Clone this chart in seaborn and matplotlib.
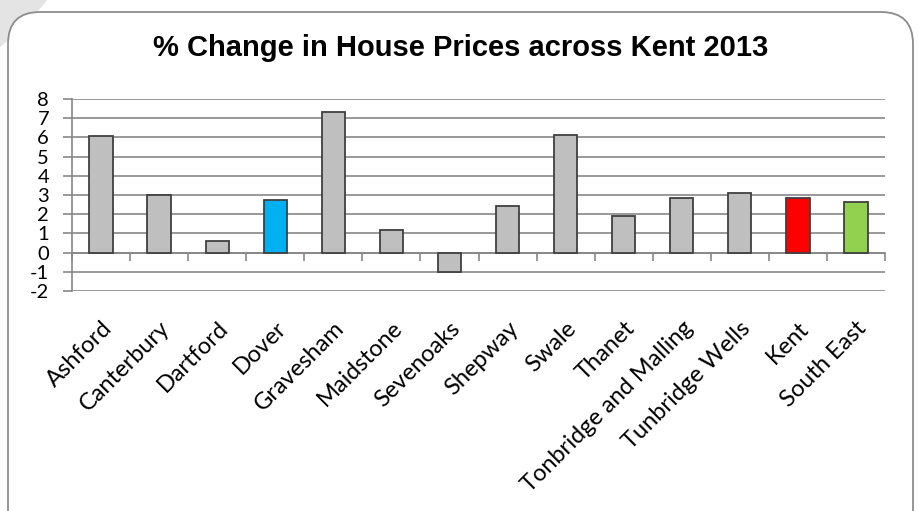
import numpy as np
import pandas as pd
import matplotlib
matplotlib.use("Agg")
import matplotlib.pyplot as plt
from matplotlib.patches import FancyBboxPatch, Circle
import seaborn as sns

categories = ["Ashford", "Canterbury", "Dartford", "Dover", "Gravesham", "Maidstone",
              "Sevenoaks", "Shepway", "Swale", "Thanet", "Tonbridge and Malling",
              "Tunbridge Wells", "Kent", "South East"]
values = [6.05, 3.0, 0.62, 2.75, 7.34, 1.19, -1.0, 2.41, 6.13, 1.89, 2.86, 3.10, 2.84, 2.65]
bar_colors = ["#bfbfbf", "#bfbfbf", "#bfbfbf", "#00b0f0", "#bfbfbf", "#bfbfbf", "#bfbfbf",
              "#bfbfbf", "#bfbfbf", "#bfbfbf", "#bfbfbf", "#bfbfbf", "#ff0000", "#92d050"]
y_ticks = [-2, -1, 0, 1, 2, 3, 4, 5, 6, 7, 8]
title = "% Change in House Prices across Kent 2013"

sns.set_theme(style="white")
plt.rcParams["font.family"] = ["Lato", "DejaVu Sans"]

df = pd.DataFrame({"area": categories, "change": values})

fig = plt.figure(figsize=(9.19, 5.11), dpi=100)
fig.patch.set_facecolor("white")

# decorative background: grey wedge in top-left corner and rounded frame
wedge = Circle((-2.0, 7.11), 3.18, transform=fig.dpi_scale_trans,
               facecolor="#e4e4e4", edgecolor="none", zorder=-3)
fig.patches.append(wedge)
frame = FancyBboxPatch((0.08, -0.4), 9.05, 5.11 - 0.12 + 0.4,
                       boxstyle="round,pad=0,rounding_size=0.32",
                       transform=fig.dpi_scale_trans, facecolor="white",
                       edgecolor="#8c8c8c", linewidth=1.3, zorder=-2)
fig.patches.append(frame)

ax = fig.add_axes([72 / 919, 1 - 291 / 511, (885 - 72) / 919, (291 - 99) / 511])
ax.set_zorder(2)
ax.patch.set_visible(False)

sns.barplot(data=df, x="area", y="change", hue="area", palette=bar_colors,
            width=0.4, legend=False, ax=ax, edgecolor="#404040", linewidth=1.3,
            saturation=1, zorder=3)

ax.set_xlim(-0.5, len(categories) - 0.5)
ax.set_ylim(min(y_ticks), max(y_ticks))
ax.set_yticks(y_ticks)
ax.set_yticklabels([str(t) for t in y_ticks])
ax.set_xlabel("")
ax.set_ylabel("")

grid_c = "#878787"
ax.yaxis.grid(True, color=grid_c, linewidth=1.2, zorder=0)
ax.xaxis.grid(False)
ax.set_axisbelow(True)
for s in ["top", "right", "bottom"]:
    ax.spines[s].set_visible(False)
ax.spines["left"].set_color(grid_c)
ax.spines["left"].set_linewidth(1.2)

ax.tick_params(axis="y", which="major", direction="out", length=6.5, width=1.2,
               color=grid_c, pad=10, labelsize=14.5, labelcolor="black", left=True)
ax.tick_params(axis="x", which="major", length=0, pad=19, labelsize=17,
               labelcolor="black")
for lab in ax.get_xticklabels():
    lab.set_rotation(45)
    lab.set_ha("right")
    lab.set_va("top")
    lab.set_rotation_mode("anchor")

# category boundary ticks along the zero line
sec = ax.secondary_xaxis((0 - min(y_ticks)) / (max(y_ticks) - min(y_ticks)))
sec.set_xticks(np.arange(len(categories) + 1) - 0.5)
sec.set_xticklabels([])
sec.tick_params(axis="x", direction="out", length=6, width=1.2, color=grid_c)
sec.spines["bottom"].set_color(grid_c)
sec.spines["bottom"].set_linewidth(1.2)

fig.text(461 / 919, 1 - 48 / 511, title, ha="center", va="center", color="black",
         fontsize=21, fontweight="bold", family=["Liberation Sans", "DejaVu Sans"])

fig.savefig("out.png", dpi=100)
